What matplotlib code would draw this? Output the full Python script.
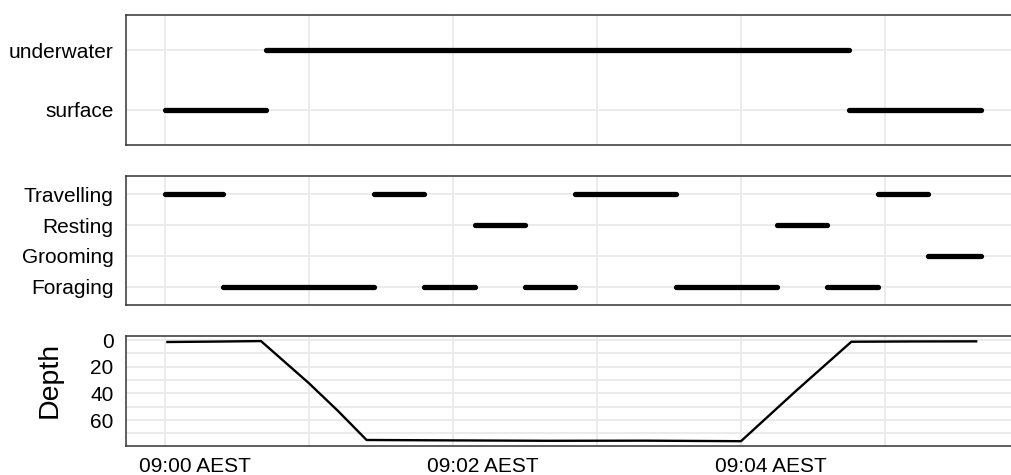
import matplotlib
matplotlib.use('Agg')
import matplotlib.pyplot as plt
import matplotlib.transforms as mtransforms

plt.rcParams['font.family'] = ['Liberation Sans', 'DejaVu Sans']

# ---- data (seconds after 09:00 AEST) ----
state_names = ['surface', 'underwater']
state_seg = ['surface', 'underwater', 'surface']
state_start = [0, 42, 285]
state_end = [42, 285, 340]

behav_names = ['Foraging', 'Grooming', 'Resting', 'Travelling']
behav_seg = ['Travelling', 'Foraging', 'Travelling', 'Foraging', 'Resting', 'Foraging',
             'Travelling', 'Foraging', 'Resting', 'Foraging', 'Travelling', 'Grooming']
behav_start = [0, 24, 87, 108, 129, 150, 171, 213, 255, 276, 297, 318]
behav_end = [24, 87, 108, 129, 150, 171, 213, 255, 276, 297, 318, 340]

depth_time = [1, 20, 40, 60, 72, 84, 120, 160, 200, 240, 263, 286, 310, 338]
depth_val = [1.5, 1.2, 0.8, 32.4, 53, 74.9, 75.2, 75.5, 75.4, 75.8, 38, 1.3, 1.1, 1.0]

x_ticks = [0, 120, 240]
x_minor = [60, 180, 300]
x_tick_labels = ['09:00 AEST', '09:02 AEST', '09:04 AEST']
depth_ticks = [0, 20, 40, 60]
depth_minor = [10, 30, 50, 70]

# ---- layout ----
W, H = 1011, 475
fig = plt.figure(figsize=(W / 100, H / 100), dpi=100)


def pos(l, t, r, b):
    return [l / W, 1 - b / H, (r - l) / W, (b - t) / H]


ax1 = fig.add_axes(pos(126, 15, 1022, 145))
ax2 = fig.add_axes(pos(126, 176, 1022, 305))
ax3 = fig.add_axes(pos(126, 336, 1022, 446))

XLIM = (-16.25, 357.1)
grid_col = '#ebebeb'
border_col = '#333333'
fs = 15


def style(ax):
    ax.set_xlim(*XLIM)
    ax.set_xticks(x_ticks)
    ax.set_xticks(x_minor, minor=True)
    ax.set_axisbelow(True)
    ax.grid(which='both', color=grid_col, lw=1.4)
    ax.tick_params(which='both', length=0, labelsize=fs, pad=9, colors='black')
    for s in ax.spines.values():
        s.set_color(border_col)
        s.set_linewidth(1.1)


# panel 1: state
for name, a, b in zip(state_seg, state_start, state_end):
    y = state_names.index(name) + 1
    ax1.plot([a, b], [y, y], color='black', lw=3.8, solid_capstyle='round')
style(ax1)
ax1.set_ylim(0.4, 2.6)
ax1.set_yticks([1, 2])
ax1.set_yticklabels(state_names)
ax1.set_xticklabels([])

# panel 2: behaviour
for name, a, b in zip(behav_seg, behav_start, behav_end):
    y = behav_names.index(name) + 1
    ax2.plot([a, b], [y, y], color='black', lw=3.8, solid_capstyle='round')
style(ax2)
ax2.set_ylim(0.4, 4.6)
ax2.set_yticks([1, 2, 3, 4])
ax2.set_yticklabels(behav_names)
ax2.set_xticklabels([])

# panel 3: depth
ax3.plot(depth_time, depth_val, color='black', lw=1.7)
style(ax3)
ax3.set_ylim(79.4, -3.0)
ax3.set_yticks(depth_ticks)
ax3.set_yticks(depth_minor, minor=True)
ax3.set_xticklabels(x_tick_labels)
ax3.tick_params(axis='x', pad=8)
offset = mtransforms.ScaledTranslation(0.30, 0, fig.dpi_scale_trans)
for lab in ax3.get_xticklabels():
    lab.set_transform(lab.get_transform() + offset)
ax3.set_ylabel('Depth', fontsize=20.5)
ax3.yaxis.set_label_coords(-0.0703, 0.60)

fig.savefig('out.png', dpi=100)
